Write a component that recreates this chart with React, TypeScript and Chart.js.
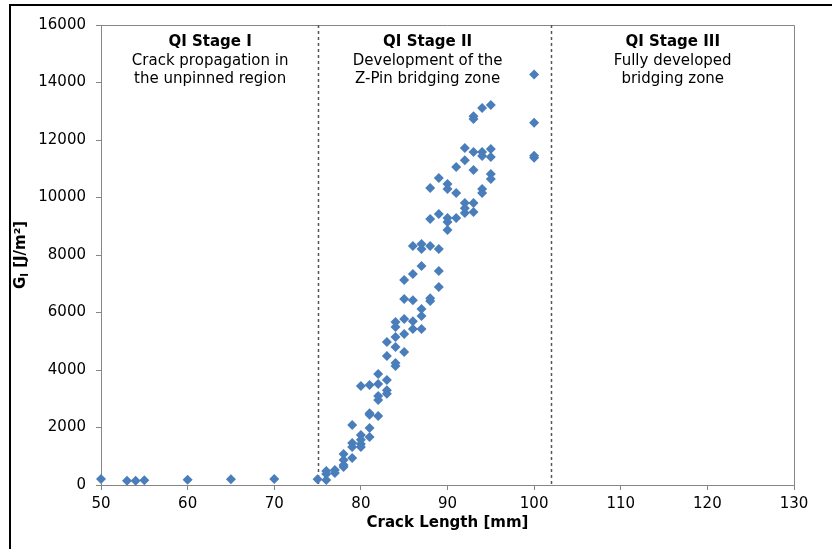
import React, { useEffect, useRef } from "react";
import { Chart, registerables } from "chart.js";

Chart.register(...registerables);

const crackLength: number[] = [
  50, 53, 54, 55, 60, 65, 70, 75,
  76, 76, 76,
  77, 77,
  78, 78, 78, 78,
  79, 79, 79, 79,
  80, 80, 80, 80, 80,
  81, 81, 81, 81, 81,
  82, 82, 82, 82, 82,
  83, 83, 83, 83, 83,
  84, 84, 84, 84, 84, 84,
  85, 85, 85, 85, 85,
  86, 86, 86, 86, 86,
  87, 87, 87, 87, 87, 87,
  88, 88, 88, 88, 88,
  89, 89, 89, 89, 89,
  90, 90, 90, 90, 90,
  91, 91, 91,
  92, 92, 92, 92, 92,
  93, 93, 93, 93, 93, 93,
  94, 94, 94, 94, 94,
  95, 95, 95, 95, 95,
  100, 100, 100, 100,
];

const energyRelease: number[] = [
  210, 150, 150, 165, 185, 200, 210, 200,
  175, 385, 485,
  420, 520,
  625, 700, 870, 1080,
  940, 1320, 1460, 2090,
  1320, 1430, 1570, 1740, 3440,
  1670, 1980, 2440, 2500, 3480,
  2400, 2960, 3100, 3510, 3860,
  3170, 3300, 3650, 4490, 4970,
  4140, 4240, 4800, 5150, 5500, 5670,
  4630, 5250, 5770, 6470, 7130,
  5430, 5700, 6430, 7340, 8310,
  5430, 5880, 6120, 7620, 8210, 8380,
  6400, 6500, 8310, 9250, 10330,
  6890, 7440, 8210, 9430, 10680,
  8870, 9150, 9290, 10300, 10470,
  9290, 10160, 11060,
  9460, 9630, 9810, 11300, 11720,
  9500, 9810, 10960, 11580, 12730, 12830,
  10160, 10300, 11440, 11580, 13110,
  10640, 10820, 11410, 11690, 13220,
  11380, 11450, 12600, 14280,
];

const xTicks: number[] = [50, 60, 70, 80, 90, 100, 110, 120, 130];
const yTicks: number[] = [0, 2000, 4000, 6000, 8000, 10000, 12000, 14000, 16000];

const stageBoundaries: number[] = [75, 102];
const stageCenters: number[] = [62.6, 87.7, 116];
const stageTitles: string[] = ["QI Stage I", "QI Stage II", "QI Stage III"];
const stageLine1: string[] = ["Crack propagation in", "Development of the", "Fully developed"];
const stageLine2: string[] = ["the unpinned region", "Z-Pin bridging zone", "bridging zone"];

const FONT = "'DejaVu Sans', Verdana, sans-serif";

const decorPlugin = {
  id: "decor",
  beforeDatasetsDraw(chart: any) {
    const { ctx, chartArea, scales } = chart;
    const xs = scales.x;
    ctx.save();
    ctx.strokeStyle = "#868686";
    ctx.lineWidth = 1;
    ctx.beginPath();
    ctx.moveTo(chartArea.left, chartArea.top + 0.5);
    ctx.lineTo(chartArea.right + 0.5, chartArea.top + 0.5);
    ctx.lineTo(chartArea.right + 0.5, chartArea.bottom);
    ctx.stroke();
    ctx.strokeStyle = "#555555";
    ctx.lineWidth = 1.5;
    ctx.setLineDash([3, 3]);
    stageBoundaries.forEach((b) => {
      const px = Math.round(xs.getPixelForValue(b)) + 0.5;
      ctx.beginPath();
      ctx.moveTo(px, chartArea.top);
      ctx.lineTo(px, chartArea.bottom);
      ctx.stroke();
    });
    ctx.setLineDash([]);
    ctx.fillStyle = "#000";
    ctx.textAlign = "center";
    ctx.textBaseline = "middle";
    stageCenters.forEach((c, i) => {
      const px = xs.getPixelForValue(c);
      ctx.font = `bold 15px ${FONT}`;
      ctx.fillText(stageTitles[i], px, 42);
      ctx.font = `15px ${FONT}`;
      ctx.fillText(stageLine1[i], px, 61);
      ctx.fillText(stageLine2[i], px, 79);
    });
    ctx.restore();
  },
  afterDraw(chart: any) {
    const { ctx, chartArea } = chart;
    ctx.save();
    ctx.fillStyle = "#000";
    ctx.font = `bold 15px ${FONT}`;
    ctx.textAlign = "center";
    ctx.textBaseline = "middle";
    ctx.fillText("Crack Length [mm]", (chartArea.left + chartArea.right) / 2, 523);
    const cy = (chartArea.top + chartArea.bottom) / 2;
    ctx.translate(21, cy);
    ctx.rotate(-Math.PI / 2);
    ctx.textAlign = "left";
    ctx.textBaseline = "middle";
    const bigFont = `bold 15px ${FONT}`;
    const smallFont = `bold 10px ${FONT}`;
    ctx.font = bigFont;
    const wG = ctx.measureText("G").width;
    const rest = " [J/m²]";
    const wRest = ctx.measureText(rest).width;
    ctx.font = smallFont;
    const wI = ctx.measureText("I").width;
    const total = wG + wI + wRest;
    let x0 = -total / 2;
    ctx.font = bigFont;
    ctx.fillText("G", x0, 0);
    x0 += wG;
    ctx.font = smallFont;
    ctx.fillText("I", x0, 4);
    x0 += wI;
    ctx.font = bigFont;
    ctx.fillText(rest, x0, 0);
    ctx.restore();
    ctx.save();
    ctx.strokeStyle = "#000";
    ctx.lineWidth = 2;
    ctx.beginPath();
    ctx.moveTo(10, 549);
    ctx.lineTo(10, 5);
    ctx.lineTo(832, 5);
    ctx.stroke();
    ctx.restore();
  },
};

export default function App() {
  const canvasRef = useRef<HTMLCanvasElement | null>(null);

  useEffect(() => {
    if (!canvasRef.current) return;
    const points = crackLength.map((x, i) => ({ x, y: energyRelease[i] }));
    const chart = new Chart(canvasRef.current, {
      type: "scatter",
      data: {
        datasets: [
          {
            data: points,
            pointStyle: "rectRot",
            pointRadius: 5,
            pointHoverRadius: 5,
            backgroundColor: "#4A7EBB",
            borderColor: "#4A7EBB",
            borderWidth: 0,
            clip: false,
          },
        ],
      },
      options: {
        animation: false,
        responsive: false,
        maintainAspectRatio: false,
        layout: { padding: { left: 0, right: 38, top: 25, bottom: 0 } },
        plugins: {
          legend: { display: false },
          tooltip: { enabled: false },
        },
        scales: {
          x: {
            type: "linear",
            min: 50,
            max: 130,
            afterBuildTicks(scale: any) {
              scale.ticks = xTicks.map((v) => ({ value: v }));
            },
            afterFit(scale: any) {
              scale.height = 64;
            },
            grid: {
              display: true,
              drawOnChartArea: false,
              drawTicks: true,
              tickLength: 5,
              color: "#868686",
            },
            border: { display: true, color: "#868686", width: 1 },
            ticks: {
              color: "#000",
              padding: 5,
              maxRotation: 0,
              font: { family: FONT, size: 15 },
            },
          },
          y: {
            type: "linear",
            min: 0,
            max: 16000,
            afterBuildTicks(scale: any) {
              scale.ticks = yTicks.map((v) => ({ value: v }));
            },
            afterFit(scale: any) {
              scale.width = 101;
            },
            grid: {
              display: true,
              drawOnChartArea: false,
              drawTicks: true,
              tickLength: 5,
              color: "#868686",
            },
            border: { display: true, color: "#868686", width: 1 },
            ticks: {
              color: "#000",
              padding: 10,
              font: { family: FONT, size: 15 },
              callback: (v: any) => String(v),
            },
          },
        },
      },
      plugins: [decorPlugin],
    });
    return () => chart.destroy();
  }, []);

  return (
    <div style={{ position: "fixed", left: 0, top: 0, width: 832, height: 549, background: "#fff" }}>
      <canvas ref={canvasRef} width={832} height={549} style={{ width: 832, height: 549, display: "block" }} />
    </div>
  );
}
